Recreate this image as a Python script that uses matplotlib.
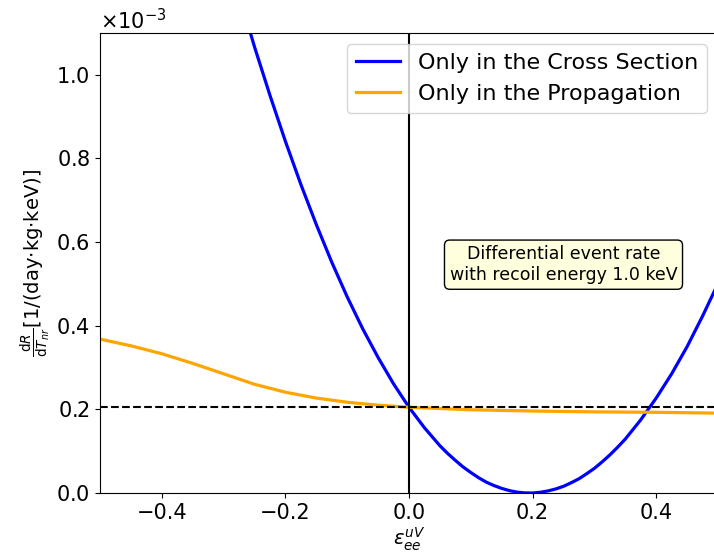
import matplotlib
matplotlib.use("Agg")
import matplotlib.pyplot as plt
from matplotlib.ticker import ScalarFormatter

# Data, y in units of 1e-3
x_cross = [-0.275, -0.25, -0.225, -0.2, -0.175, -0.15, -0.125, -0.1, -0.075, -0.05, -0.025,
           0.0, 0.025, 0.05, 0.0625, 0.075, 0.0875, 0.1, 0.1125, 0.125, 0.1375, 0.15, 0.1625,
           0.175, 0.1875, 0.2, 0.2125, 0.225, 0.2375, 0.25, 0.2625, 0.275, 0.2875, 0.3,
           0.3125, 0.325, 0.3375, 0.35, 0.375, 0.4, 0.425, 0.45, 0.475, 0.5]
y_cross = [1.191, 1.067, 0.951, 0.841, 0.738, 0.642, 0.552, 0.469, 0.393, 0.324, 0.261,
           0.205, 0.156, 0.113, 0.0946, 0.078, 0.0623, 0.049, 0.0367, 0.026, 0.0178, 0.011, 0.0057,
           0.002, 0.0003, 0.000, 0.0017, 0.005, 0.0097, 0.016, 0.0246, 0.034, 0.0461, 0.059,
           0.0744, 0.091, 0.1094, 0.129, 0.175, 0.227, 0.285, 0.350, 0.423, 0.501]

x_prop = [-0.5, -0.45, -0.4, -0.35, -0.3, -0.25, -0.2, -0.15, -0.1, -0.05, 0.0,
          0.1, 0.2, 0.3, 0.4, 0.5]
y_prop = [0.368, 0.352, 0.333, 0.310, 0.285, 0.260, 0.241, 0.227, 0.217, 0.210, 0.205,
          0.199, 0.196, 0.194, 0.193, 0.191]

ref_value = 0.205
scale = 1e-3

fig = plt.figure(figsize=(7.14, 5.55), dpi=100)
ax = fig.add_axes([100/714, 62/555, 618/714, 460/555])

ax.plot(x_cross, [v*scale for v in y_cross], color='blue', lw=2.3, label='Only in the Cross Section',
        solid_joinstyle='round')
ax.plot(x_prop, [v*scale for v in y_prop], color='orange', lw=2.3, label='Only in the Propagation',
        solid_joinstyle='round')
ax.axhline(ref_value*scale, color='black', ls='--', lw=1.5)
ax.axvline(0.0, color='black', lw=1.5)

ax.set_xlim(-0.5, 0.5)
ax.set_ylim(0, 1.1e-3)

fmt = ScalarFormatter(useMathText=True)
fmt.set_powerlimits((0, 0))
ax.yaxis.set_major_formatter(fmt)
ax.yaxis.get_offset_text().set_fontsize(15)

ax.tick_params(labelsize=15)
ax.set_xlabel(r'$\epsilon_{ee}^{uV}$', fontsize=14, labelpad=2)
ax.set_ylabel(r'$\frac{\mathrm{d}R}{\mathrm{d}T_{nr}}$[1/(day$\cdot$kg$\cdot$keV)]', fontsize=14, labelpad=2)

ax.legend(loc='upper right', fontsize=16)

ax.text(0.25, 0.546e-3, 'Differential event rate\nwith recoil energy 1.0 keV',
        ha='center', va='center', fontsize=12.5,
        bbox=dict(boxstyle='round', facecolor='#ffffdd', edgecolor='black'))

fig.savefig('out.png', dpi=100)
